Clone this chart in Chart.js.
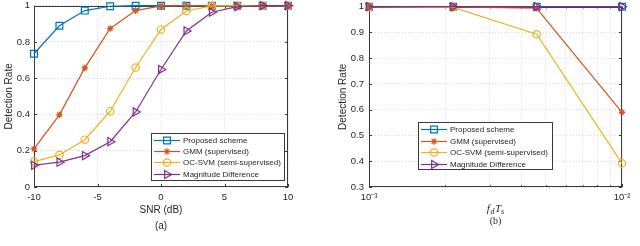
<!DOCTYPE html>
<html>
<head>
<meta charset="utf-8">
<script src="https://cdn.jsdelivr.net/npm/chart.js@4.4.1/dist/chart.umd.min.js"></script>
<style>
  html, body { margin: 0; padding: 0; background: #fff; }
  body { width: 640px; height: 246px; position: relative; overflow: hidden; }
  .panel { position: absolute; top: -4px; }
</style>
</head>
<body>
<div class="panel" style="left:0"><canvas id="chartSnr" width="310" height="250"></canvas></div>
<div class="panel" style="left:320px"><canvas id="chartDoppler" width="320" height="250"></canvas></div>
<script>
// series names (same in both panels)
const seriesNames = ['Proposed scheme', 'GMM (supervised)', 'OC-SVM (semi-supervised)', 'Magnitude Difference'];

// (a) detection rate vs SNR
const snrDb = [-10, -8, -6, -4, -2, 0, 2, 4, 6, 8, 10];
const snrProposed = [0.735, 0.889, 0.973, 0.997, 1.0, 1.0, 1.0, 1.0, 1.0, 1.0, 1.0];
const snrGmm = [0.21, 0.398, 0.657, 0.874, 0.973, 0.999, 1.0, 1.0, 1.0, 1.0, 1.0];
const snrOcsvm = [0.14, 0.177, 0.261, 0.418, 0.659, 0.869, 0.971, 0.999, 1.0, 1.0, 1.0];
const snrMagnitude = [0.12, 0.137, 0.173, 0.25, 0.414, 0.648, 0.861, 0.964, 0.995, 1.0, 1.0];

// (b) detection rate vs normalised Doppler f_d T_s
const fdTs = [0.001, 0.00215, 0.0046, 0.01];
const dopProposed = [1.0, 1.0, 1.0, 1.0];
const dopGmm = [1.0, 0.999, 0.994, 0.59];
const dopOcsvm = [1.0, 0.997, 0.893, 0.392];
const dopMagnitude = [1.0, 1.0, 1.0, 1.0];

// tick positions / labels
const snrTicks = [-10, -5, 0, 5, 10];
const logTicks = [0.001, 0.002, 0.003, 0.004, 0.005, 0.006, 0.007, 0.008, 0.009, 0.01];
const logTickLabels = { '-3': '10⁻³', '-2': '10⁻²' };

// axis texts
const yTitle = 'Detection Rate';
const snrTitle = 'SNR (dB)';
const panelA = '(a)';
const panelB = '(b)';

// MATLAB default colours
const colors = ['#0072BD', '#D95319', '#EDB120', '#7E2F8E'];
const markers = [
  { pointStyle: 'rect', pointRadius: 4.8, pointRotation: 0 },
  { pointStyle: 'star', pointRadius: 3.3, pointRotation: 0 },
  { pointStyle: 'circle', pointRadius: 3.7, pointRotation: 0 },
  { pointStyle: 'triangle', pointRadius: 4.7, pointRotation: 90 }
];

const frameColor = '#3a3a3a';
const textColor = '#262626';
const sansFont = '"Liberation Sans", Arial, Helvetica, sans-serif';
const serifFont = '"Liberation Serif", "DejaVu Serif", serif';

Chart.defaults.font.family = sansFont;
Chart.defaults.color = textColor;

function makeDatasets(xs, seriesList) {
    return seriesList.map((ys, i) => ({
        label: seriesNames[i],
        data: xs.map((x, k) => ({ x: x, y: ys[k] })),
        borderColor: colors[i],
        backgroundColor: 'rgba(0,0,0,0)',
        pointBorderColor: colors[i],
        pointBackgroundColor: 'rgba(0,0,0,0)',
        borderWidth: 1.2,
        pointBorderWidth: 1.2,
        pointStyle: markers[i].pointStyle,
        pointRadius: markers[i].pointRadius,
        pointRotation: markers[i].pointRotation,
        tension: 0,
        clip: false,
        order: seriesList.length - i   // last series on top like MATLAB
    }));
}

// tick label without trailing zeros: 1, 0.8, 0 ...
const plainTick = v => String(+Number(v).toFixed(2));

// box, inner ticks, legend and bottom captions in MATLAB style
const matlabFrame = {
    id: 'matlabFrame',
    beforeDatasetsDraw(chart, args, opts) {
        const { ctx, chartArea: a, scales } = chart;
        const x = scales.x, y = scales.y;
        ctx.save();
        ctx.strokeStyle = frameColor;
        ctx.lineWidth = 1;
        ctx.beginPath();
        x.ticks.forEach(t => {
            const px = Math.round(x.getPixelForValue(t.value)) + 0.5;
            const len = t.label ? 3 : 1.8;
            ctx.moveTo(px, a.bottom); ctx.lineTo(px, a.bottom - len);
            ctx.moveTo(px, a.top); ctx.lineTo(px, a.top + len);
        });
        y.ticks.forEach(t => {
            const py = Math.round(y.getPixelForValue(t.value)) + 0.5;
            ctx.moveTo(a.left, py); ctx.lineTo(a.left + 3, py);
            ctx.moveTo(a.right, py); ctx.lineTo(a.right - 3, py);
        });
        ctx.stroke();
        ctx.strokeRect(Math.round(a.left) + 0.5, Math.round(a.top) + 0.5,
                       Math.round(a.width) - 1, Math.round(a.height) - 1);
        ctx.restore();
    },
    afterDraw(chart, args, opts) {
        const { ctx, chartArea: a } = chart;
        ctx.save();

        // legend box
        const lg = opts.legend;
        ctx.fillStyle = '#fff';
        ctx.fillRect(lg.left, lg.top, lg.width, lg.height);
        ctx.strokeStyle = frameColor;
        ctx.lineWidth = 1;
        ctx.strokeRect(lg.left + 0.5, lg.top + 0.5, lg.width - 1, lg.height - 1);
        ctx.font = '8px ' + sansFont;
        ctx.textBaseline = 'middle';
        ctx.textAlign = 'left';
        chart.data.datasets.forEach((ds, i) => {
            const cy = Math.round(lg.top + lg.firstRow + i * lg.rowGap) + 0.5;
            ctx.strokeStyle = ds.borderColor;
            ctx.lineWidth = 1.2;
            ctx.beginPath();
            ctx.moveTo(lg.left + 3, cy);
            ctx.lineTo(lg.left + 29, cy);
            ctx.stroke();
            ctx.fillStyle = 'rgba(0,0,0,0)';
            if (Chart.helpers && Chart.helpers.drawPoint) {
                Chart.helpers.drawPoint(ctx, {
                    pointStyle: ds.pointStyle,
                    radius: ds.pointRadius,
                    rotation: ds.pointRotation,
                    borderWidth: 1.2
                }, lg.left + 16, cy);
            }
            ctx.fillStyle = textColor;
            ctx.fillText(ds.label, lg.left + 32, cy);
        });

        // captions under the x axis
        const cx = (a.left + a.right) / 2;
        ctx.fillStyle = textColor;
        ctx.textBaseline = 'middle';
        opts.captions.forEach(line => {
            let total = 0;
            line.runs.forEach(r => { ctx.font = r.font; total += ctx.measureText(r.text).width + (r.gap || 0); });
            let px = cx - total / 2;
            ctx.textAlign = 'left';
            line.runs.forEach(r => {
                ctx.font = r.font;
                ctx.fillText(r.text, px, line.y + (r.dy || 0));
                px += ctx.measureText(r.text).width + (r.gap || 0);
            });
        });
        ctx.restore();
    }
};

const gridStyle = {
    color: 'rgba(38,38,38,0.18)',
    lineWidth: 1,
    drawTicks: false
};
// in v4 the dash of grid lines lives under border
const borderStyle = { display: false, dash: [1, 2] };

function fixSize(w, h) {
    return scale => {
        if (w !== null) scale.width = w;
        if (h !== null) scale.height = h;
    };
}

// ---------- (a) ----------
new Chart(document.getElementById('chartSnr'), {
    type: 'line',
    data: { datasets: makeDatasets(snrDb, [snrProposed, snrGmm, snrOcsvm, snrMagnitude]) },
    plugins: [matlabFrame],
    options: {
        responsive: false,
        animation: false,
        events: [],
        layout: { padding: { left: 0, top: 8, right: 22, bottom: 0 } },
        scales: {
            x: {
                type: 'linear',
                min: snrTicks[0],
                max: snrTicks[snrTicks.length - 1],
                afterBuildTicks: s => { s.ticks = snrTicks.map(v => ({ value: v })); },
                ticks: { font: { size: 9.5 }, padding: 5, maxRotation: 0 },
                grid: gridStyle,
                border: borderStyle,
                afterFit: fixSize(null, 59)
            },
            y: {
                min: 0,
                max: 1,
                ticks: { stepSize: 0.2, font: { size: 9.5 }, padding: 4, callback: plainTick },
                grid: gridStyle,
                border: borderStyle,
                title: { display: true, text: yTitle, font: { size: 10 }, padding: { top: 3, bottom: 0 } },
                afterFit: fixSize(34, null)
            }
        },
        plugins: {
            legend: { display: false },
            tooltip: { enabled: false },
            matlabFrame: {
                legend: { left: 151, top: 137, width: 134, height: 48, firstRow: 7, rowGap: 11.2 },
                captions: [
                    { y: 214, runs: [{ text: snrTitle, font: '10px ' + sansFont }] },
                    { y: 230, runs: [{ text: panelA, font: '10px ' + sansFont }] }
                ]
            }
        }
    }
});

// ---------- (b) ----------
new Chart(document.getElementById('chartDoppler'), {
    type: 'line',
    data: { datasets: makeDatasets(fdTs, [dopProposed, dopGmm, dopOcsvm, dopMagnitude]) },
    plugins: [matlabFrame],
    options: {
        responsive: false,
        animation: false,
        events: [],
        layout: { padding: { left: 14, top: 8, right: 18, bottom: 0 } },
        scales: {
            x: {
                type: 'logarithmic',
                min: logTicks[0],
                max: logTicks[logTicks.length - 1],
                afterBuildTicks: s => { s.ticks = logTicks.map(v => ({ value: v })); },
                ticks: {
                    font: { size: 9.5 },
                    padding: 5,
                    maxRotation: 0,
                    autoSkip: false,
                    callback: v => {
                        const e = Math.log10(v);
                        const r = Math.round(e);
                        return Math.abs(e - r) < 1e-6 ? (logTickLabels[String(r)] || '') : '';
                    }
                },
                grid: gridStyle,
                border: borderStyle,
                afterFit: fixSize(null, 59)
            },
            y: {
                min: 0.3,
                max: 1,
                ticks: { stepSize: 0.1, font: { size: 9.5 }, padding: 5, callback: plainTick },
                grid: gridStyle,
                border: borderStyle,
                title: { display: true, text: yTitle, font: { size: 10 }, padding: { top: 3, bottom: 0 } },
                afterFit: fixSize(35, null)
            }
        },
        plugins: {
            legend: { display: false },
            tooltip: { enabled: false },
            matlabFrame: {
                legend: { left: 98, top: 126, width: 135, height: 48, firstRow: 7, rowGap: 11.5 },
                captions: [
                    { y: 213, runs: [
                        { text: 'f', font: 'italic 11px ' + serifFont, gap: 0.5 },
                        { text: 'd', font: 'italic 8px ' + serifFont, dy: 2.5, gap: 0.5 },
                        { text: 'T', font: 'italic 11px ' + serifFont, gap: 0 },
                        { text: 's', font: 'italic 8px ' + serifFont, dy: 2.5 }
                    ] },
                    { y: 225, runs: [{ text: panelB, font: '10px ' + serifFont }] }
                ]
            }
        }
    }
});
</script>
</body>
</html>
